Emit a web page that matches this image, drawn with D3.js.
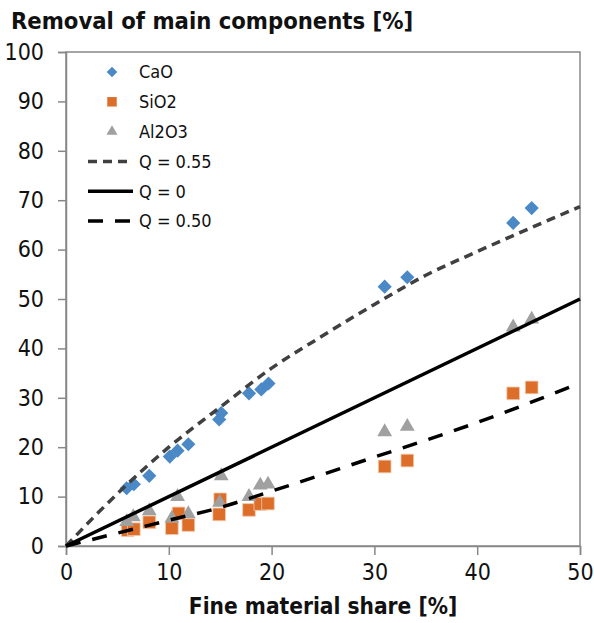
<!DOCTYPE html>
<html><head><meta charset="utf-8">
<script src="https://cdn.jsdelivr.net/npm/d3@7"></script>
<style>
body{margin:0;background:#fff}
svg{display:block}
text{font-family:"DejaVu Sans Condensed","DejaVu Sans",sans-serif;font-stretch:condensed;fill:#111}
</style>
</head><body>
<svg id="chart" width="594" height="623"></svg>
<script>
// ---- data ----
const titleText = "Removal of main components [%]";
const xLabelText = "Fine material share [%]";
const xTicks = [0, 10, 20, 30, 40, 50];
const yTicks = [0, 10, 20, 30, 40, 50, 60, 70, 80, 90, 100];

const caoX = [5.9, 6.6, 8.1, 10.1, 10.85, 11.9, 14.9, 15.1, 17.8, 19.0, 19.7, 31.0, 33.2, 43.5, 45.3];
const caoY = [11.7, 12.5, 14.2, 18.1, 19.3, 20.6, 25.6, 26.9, 30.9, 31.7, 32.9, 52.5, 54.4, 65.4, 68.4];

const sio2X = [6.0, 6.6, 8.1, 10.3, 10.95, 11.9, 15.0, 14.9, 17.8, 18.9, 19.65, 31.0, 33.2, 43.5, 45.3];
const sio2Y = [3.2, 3.4, 4.8, 3.6, 6.6, 4.25, 9.45, 6.4, 7.3, 8.5, 8.6, 16.1, 17.3, 30.9, 32.1];

const al2o3X = [5.9, 6.55, 8.1, 10.3, 10.85, 11.9, 15.1, 14.95, 17.8, 18.9, 19.65, 31.0, 33.2, 43.5, 45.3];
const al2o3Y = [4.9, 5.9, 7.1, 5.6, 10.0, 6.5, 14.2, 8.8, 10.0, 12.3, 12.5, 23.1, 24.2, 44.3, 45.9];

const curveX = [0, 5, 10, 15, 20, 25, 30, 35, 40, 45, 50];
const q055Y  = [0, 10.6, 20.0, 28.1, 36.0, 42.6, 48.9, 54.8, 59.6, 64.2, 68.7];
const q050Y  = [0, 2.6, 5.2, 7.8, 11.1, 14.5, 18.0, 21.4, 25.0, 28.9, 33.0];
const q0X = [0, 50];
const q0Y = [0, 50];

const seriesNames = ["CaO", "SiO2", "Al2O3", "Q = 0.55", "Q = 0", "Q = 0.50"];

// ---- drawing ----
const svg = d3.select("#chart");
const W = 594, H = 623;
const m = {left: 66, right: 14, top: 52, bottom: 77};
const x = d3.scaleLinear().domain([0, 50]).range([m.left, W - m.right]);
const y = d3.scaleLinear().domain([0, 100]).range([H - m.bottom, m.top]);

const axisGray = "#888888";

// title
svg.append("text").attr("x", 11).attr("y", 29)
  .attr("font-size", 23.6).attr("font-weight", "bold").text(titleText);

// plot border
svg.append("rect").attr("x", x(0)).attr("y", y(100))
  .attr("width", x(50) - x(0)).attr("height", y(0) - y(100))
  .attr("fill", "none").attr("stroke", axisGray).attr("stroke-width", 1.5);

// axes
const xAxis = svg.append("g").attr("transform", `translate(0,${y(0)})`)
  .call(d3.axisBottom(x).tickValues(xTicks).tickSize(9).tickPadding(9).tickFormat(d3.format("d")));
const yAxis = svg.append("g").attr("transform", `translate(${x(0)},0)`)
  .call(d3.axisLeft(y).tickValues(yTicks).tickSize(8).tickPadding(14).tickFormat(d3.format("d")));
[xAxis, yAxis].forEach(g => {
  g.select(".domain").attr("stroke", axisGray).attr("stroke-width", 1.5);
  g.selectAll(".tick line").attr("stroke", axisGray).attr("stroke-width", 1.5);
  g.selectAll(".tick text").attr("font-size", 23).attr("font-family", null).style("fill", "#111");
});

// x label
svg.append("text").attr("x", (x(0) + x(50)) / 2).attr("y", 614)
  .attr("text-anchor", "middle").attr("font-size", 22.5).attr("font-weight", "bold").text(xLabelText);

// markers
const colCaO = "#4a88c6", colSiO2 = "#dc6e2a", colAl = "#a0a0a0";
const diamond = d3.symbol().type(d3.symbolSquare).size(100)();
const square = d3.symbol().type(d3.symbolSquare).size(160)();
const tri = d3.symbol().type(d3.symbolTriangle).size(95)();

const caoData = caoX.map((v, i) => [v, caoY[i]]);
const sio2Data = sio2X.map((v, i) => [v, sio2Y[i]]);
const alData = al2o3X.map((v, i) => [v, al2o3Y[i]]);

svg.append("g").selectAll("path").data(caoData).join("path")
  .attr("d", diamond).attr("fill", colCaO)
  .attr("transform", d => `translate(${x(d[0])},${y(d[1])}) rotate(45)`);
svg.append("g").selectAll("path").data(sio2Data).join("path")
  .attr("d", square).attr("fill", colSiO2).attr("stroke", "#f3c9ad").attr("stroke-width", 0.8)
  .attr("transform", d => `translate(${x(d[0])},${y(d[1])})`);
svg.append("g").selectAll("path").data(alData).join("path")
  .attr("d", tri).attr("fill", colAl)
  .attr("transform", d => `translate(${x(d[0])},${y(d[1])})`);

// curves
const line = d3.line().x(d => x(d[0])).y(d => y(d[1])).curve(d3.curveMonotoneX);
const styles = {
  q055: {stroke: "#404040", dash: "9,6", width: 3.5, cap: "butt"},
  q0:   {stroke: "#000000", dash: null, width: 3.5, cap: "butt"},
  q050: {stroke: "#000000", dash: "15,12", width: 3.5, cap: "butt"}
};
function drawCurve(data, s) {
  svg.append("path").datum(data).attr("d", line).attr("fill", "none")
    .attr("stroke", s.stroke).attr("stroke-width", s.width)
    .attr("stroke-dasharray", s.dash).attr("stroke-linecap", s.cap);
}
drawCurve(curveX.map((v, i) => [v, q055Y[i]]), styles.q055);
drawCurve(q0X.map((v, i) => [v, q0Y[i]]), styles.q0);
drawCurve(curveX.map((v, i) => [v, q050Y[i]]), styles.q050);

// legend
const lg = svg.append("g");
const rowY = i => 72 + i * 29.8;
const textX = 139, symX = 112;
lg.append("path").attr("d", diamond).attr("fill", colCaO).attr("transform", `translate(${symX},${rowY(0)}) rotate(45) scale(0.75)`);
lg.append("path").attr("d", square).attr("fill", colSiO2).attr("transform", `translate(${symX},${rowY(1)}) scale(0.75)`);
lg.append("path").attr("d", tri).attr("fill", colAl).attr("transform", `translate(${symX},${rowY(2)}) scale(0.75)`);
[styles.q055, styles.q0, styles.q050].forEach((s, k) => {
  lg.append("line").attr("x1", 88).attr("x2", 133).attr("y1", rowY(3 + k)).attr("y2", rowY(3 + k))
    .attr("stroke", s.stroke).attr("stroke-width", s.width).attr("stroke-dasharray", s.dash);
});
seriesNames.forEach((n, i) => {
  lg.append("text").attr("x", textX).attr("y", rowY(i)).attr("dy", "0.35em")
    .attr("font-size", 18).text(n);
});
</script>
</body></html>
